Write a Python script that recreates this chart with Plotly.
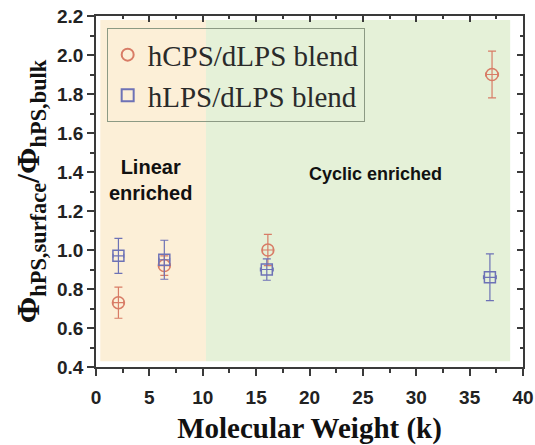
import plotly.graph_objects as go

# Data
cps_x = [2.1, 6.4, 16.1, 37.1]
cps_y = [0.73, 0.92, 1.00, 1.90]
cps_yerr = [0.08, 0.05, 0.08, 0.12]
cps_xerr = [0.5, 0.5, 0.5, 0.6]

lps_x = [2.1, 6.4, 16.0, 36.9]
lps_y = [0.97, 0.95, 0.90, 0.86]
lps_yerr = [0.09, 0.10, 0.055, 0.12]
lps_xerr = [0.5, 0.5, 0.6, 0.6]

x_ticks = [0, 5, 10, 15, 20, 25, 30, 35, 40]
y_ticks = [0.4, 0.6, 0.8, 1.0, 1.2, 1.4, 1.6, 1.8, 2.0, 2.2]

region_bounds = [0.4, 10.3, 38.8]
region_y = [0.43, 2.18]
region_labels = ["Linear<br>enriched", "Cyclic enriched"]
region_label_pos = [(5.1, 1.36), (26.2, 1.39)]
region_label_size = [20, 18]

c_cps = "#d87c66"
c_lps = "#6d72b6"
axc = "#3a3a3a"

fig = go.Figure()

fig.add_shape(type="rect", xref="x", yref="y", x0=region_bounds[0], x1=region_bounds[1],
              y0=region_y[0], y1=region_y[1], fillcolor="#fcefd7", line_width=0, layer="below")
fig.add_shape(type="rect", xref="x", yref="y", x0=region_bounds[1], x1=region_bounds[2],
              y0=region_y[0], y1=region_y[1], fillcolor="#e5f1d8", line_width=0, layer="below")

fig.add_trace(go.Scatter(
    x=cps_x, y=cps_y, mode="markers", name="hCPS/dLPS blend",
    marker=dict(symbol="circle-open", size=12, color=c_cps, line=dict(width=1.5)),
    error_y=dict(type="data", array=cps_yerr, color=c_cps, thickness=1.2, width=4),
    error_x=dict(type="data", array=cps_xerr, color=c_cps, thickness=1.2, width=2),
))
fig.add_trace(go.Scatter(
    x=lps_x, y=lps_y, mode="markers", name="hLPS/dLPS blend",
    marker=dict(symbol="square-open", size=11, color=c_lps, line=dict(width=1.5)),
    error_y=dict(type="data", array=lps_yerr, color=c_lps, thickness=1.2, width=4),
    error_x=dict(type="data", array=lps_xerr, color=c_lps, thickness=1.2, width=2),
))
# invisible trace so that the mirrored top/right axes are drawn
fig.add_trace(go.Scatter(x=[None], y=[None], xaxis="x2", yaxis="y2", showlegend=False,
                         hoverinfo="skip", mode="markers"))

for txt, (ax, ay), fs in zip(region_labels, region_label_pos, region_label_size):
    fig.add_annotation(x=ax, y=ay, xref="x", yref="y", text="<b>" + txt + "</b>",
                       showarrow=False,
                       font=dict(family="Liberation Sans, Arial, sans-serif", size=fs, color="#111"))

tickfont = dict(family="Liberation Sans, Arial, sans-serif", size=19, color="#222", weight="bold")
common = dict(showgrid=False, zeroline=False, showline=True, linecolor=axc, linewidth=1.5,
              tickcolor=axc, tickwidth=1.5, automargin=False)

fig.update_layout(
    width=535, height=445,
    margin=dict(l=96, r=12, t=16, b=78),
    paper_bgcolor="white", plot_bgcolor="white",
    showlegend=True,
    legend=dict(x=0.025, y=0.965, xanchor="left", yanchor="top",
                bgcolor="rgba(0,0,0,0)", bordercolor="#8c9a84", borderwidth=1,
                font=dict(family="Liberation Serif, Times New Roman, serif", size=29, color="#2a2a2a"),
                itemsizing="constant", tracegroupgap=0),
    xaxis=dict(range=[0, 40], tickvals=x_ticks, ticks="outside", ticklen=7, tickfont=tickfont,
               ticklabelstandoff=5,
               minor=dict(ticks="outside", ticklen=4, dtick=2.5, tickcolor=axc),
               title=dict(text="<b>Molecular Weight (k)</b>", standoff=12,
                          font=dict(family="Liberation Serif, Times New Roman, serif", size=29, color="#111")),
               **common),
    yaxis=dict(range=[0.4, 2.2], tickvals=y_ticks, tickformat=".1f", ticks="outside", ticklen=7,
               tickfont=tickfont,
               minor=dict(ticks="outside", ticklen=4, dtick=0.1, tickcolor=axc),
               title=dict(text="<b>Φ<sub>hPS,surface</sub>/Φ<sub>hPS,bulk</sub></b>", standoff=8,
                          font=dict(family="Liberation Serif, Times New Roman, serif", size=32, color="#111")),
               **common),
    xaxis2=dict(range=[0, 40], overlaying="x", side="top", anchor="y",
                tickvals=x_ticks, showticklabels=False, ticks="inside", ticklen=6,
                minor=dict(ticks="inside", ticklen=3, dtick=2.5, tickcolor=axc), **common),
    yaxis2=dict(range=[0.4, 2.2], overlaying="y", side="right", anchor="x",
                tickvals=y_ticks, showticklabels=False, ticks="inside", ticklen=6,
                minor=dict(ticks="inside", ticklen=3, dtick=0.1, tickcolor=axc), **common),
)

fig.write_html(
    "out.html",
    config={"displayModeBar": False},
    post_script="document.body.style.margin='0';document.documentElement.style.overflow='hidden';",
)
